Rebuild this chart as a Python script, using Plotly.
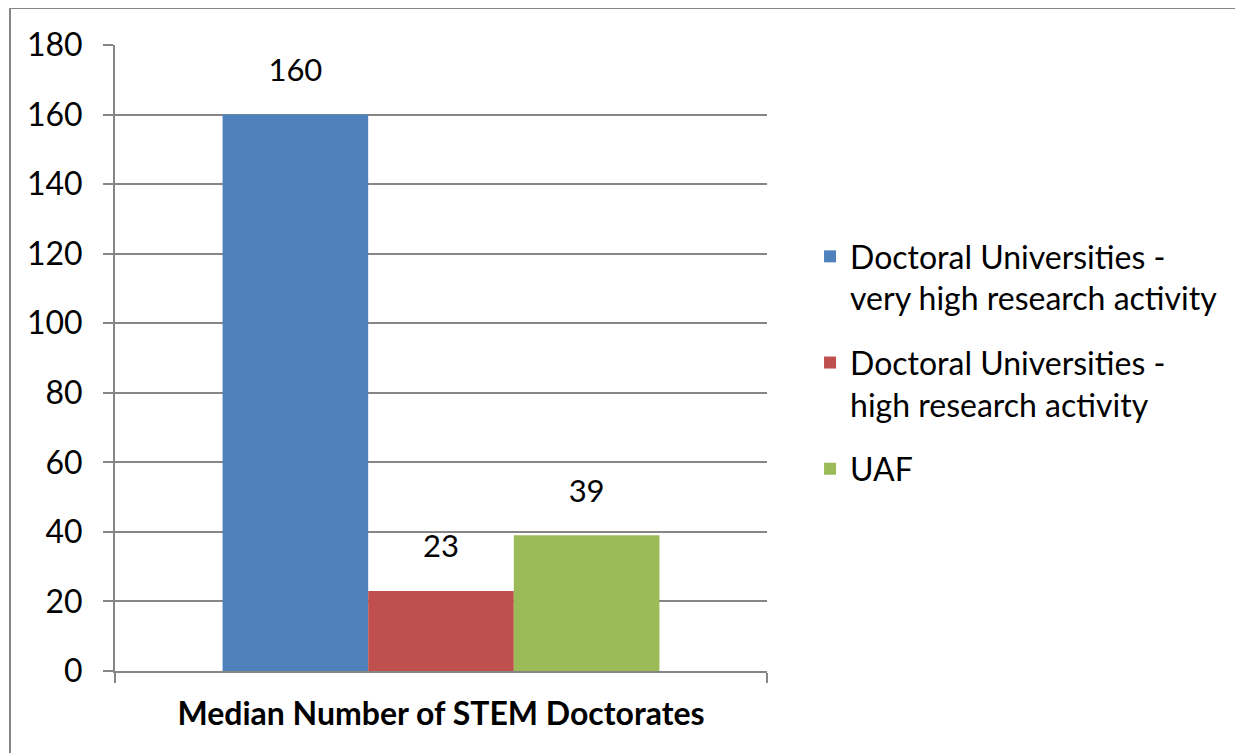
import plotly.graph_objects as go

category = ["<b>Median Number of STEM Doctorates</b>"]
series_names = [
    "Doctoral Universities -<br>very high research activity",
    "Doctoral Universities -<br>high research activity",
    "UAF",
]
series_values = [160, 23, 39]
series_colors = ["#4F81BD", "#C0504D", "#9BBB59"]
y_ticks = [0, 20, 40, 60, 80, 100, 120, 140, 160, 180]

FONT = "Lato"
GRAY = "#868686"

fig = go.Figure()
for i, (name, val, col) in enumerate(zip(series_names, series_values, series_colors)):
    fig.add_trace(go.Bar(
        x=category, y=[val], name=name,
        offsetgroup=str(i), legendgroup=str(i),
        marker=dict(color=col, line=dict(width=0)),
    ))
    # data label placed above the bar (transparent marker sets the gap)
    fig.add_trace(go.Scatter(
        x=category, y=[val], mode="markers+text",
        offsetgroup=str(i), showlegend=False, hoverinfo="skip",
        marker=dict(size=40, opacity=0),
        text=[str(val)], textposition="top center",
        textfont=dict(family=FONT, size=31, color="#000000"),
        cliponaxis=False,
    ))

fig.update_layout(
    width=1243, height=753,
    margin=dict(l=107, r=484, t=37, b=90),
    paper_bgcolor="white", plot_bgcolor="white",
    barmode="group", bargap=0.33, bargroupgap=0,
    scattermode="group", scattergap=0.33,
    font=dict(family=FONT, size=30, color="#000000"),
    legend=dict(
        x=1.066, y=0.706, xanchor="left", yanchor="top",
        font=dict(family=FONT, size=32, color="#000000"),
        bgcolor="rgba(0,0,0,0)", tracegroupgap=20, traceorder="grouped",
        valign="top",
    ),
    xaxis=dict(
        showline=True, linecolor=GRAY, linewidth=2,
        ticks="outside", tickson="boundaries", ticklen=10,
        tickcolor=GRAY, tickwidth=2,
        tickfont=dict(family=FONT, size=32, color="#000000"),
        ticklabelstandoff=14,
        showgrid=False,
    ),
    yaxis=dict(
        range=[0, 180], tickvals=y_ticks,
        showline=True, linecolor=GRAY, linewidth=2,
        ticks="outside", ticklen=10, tickcolor=GRAY, tickwidth=2,
        showgrid=True, gridcolor=GRAY, gridwidth=2,
        zeroline=False,
        tickfont=dict(family=FONT, size=32, color="#000000"),
        ticklabelstandoff=14,
    ),
)

# outer chart border (extends beyond the visible area)
fig.add_shape(type="line", xref="paper", yref="paper",
              x0=(10 - 115) / 652, x1=(10 - 115) / 652,
              y0=(671 - 8) / 626, y1=(671 - 770) / 626,
              line=dict(color=GRAY, width=2))
fig.add_shape(type="line", xref="paper", yref="paper",
              x0=(10 - 115) / 652, x1=(1260 - 115) / 652,
              y0=(671 - 8) / 626, y1=(671 - 8) / 626,
              line=dict(color=GRAY, width=2))

fig.write_html("out.html")
